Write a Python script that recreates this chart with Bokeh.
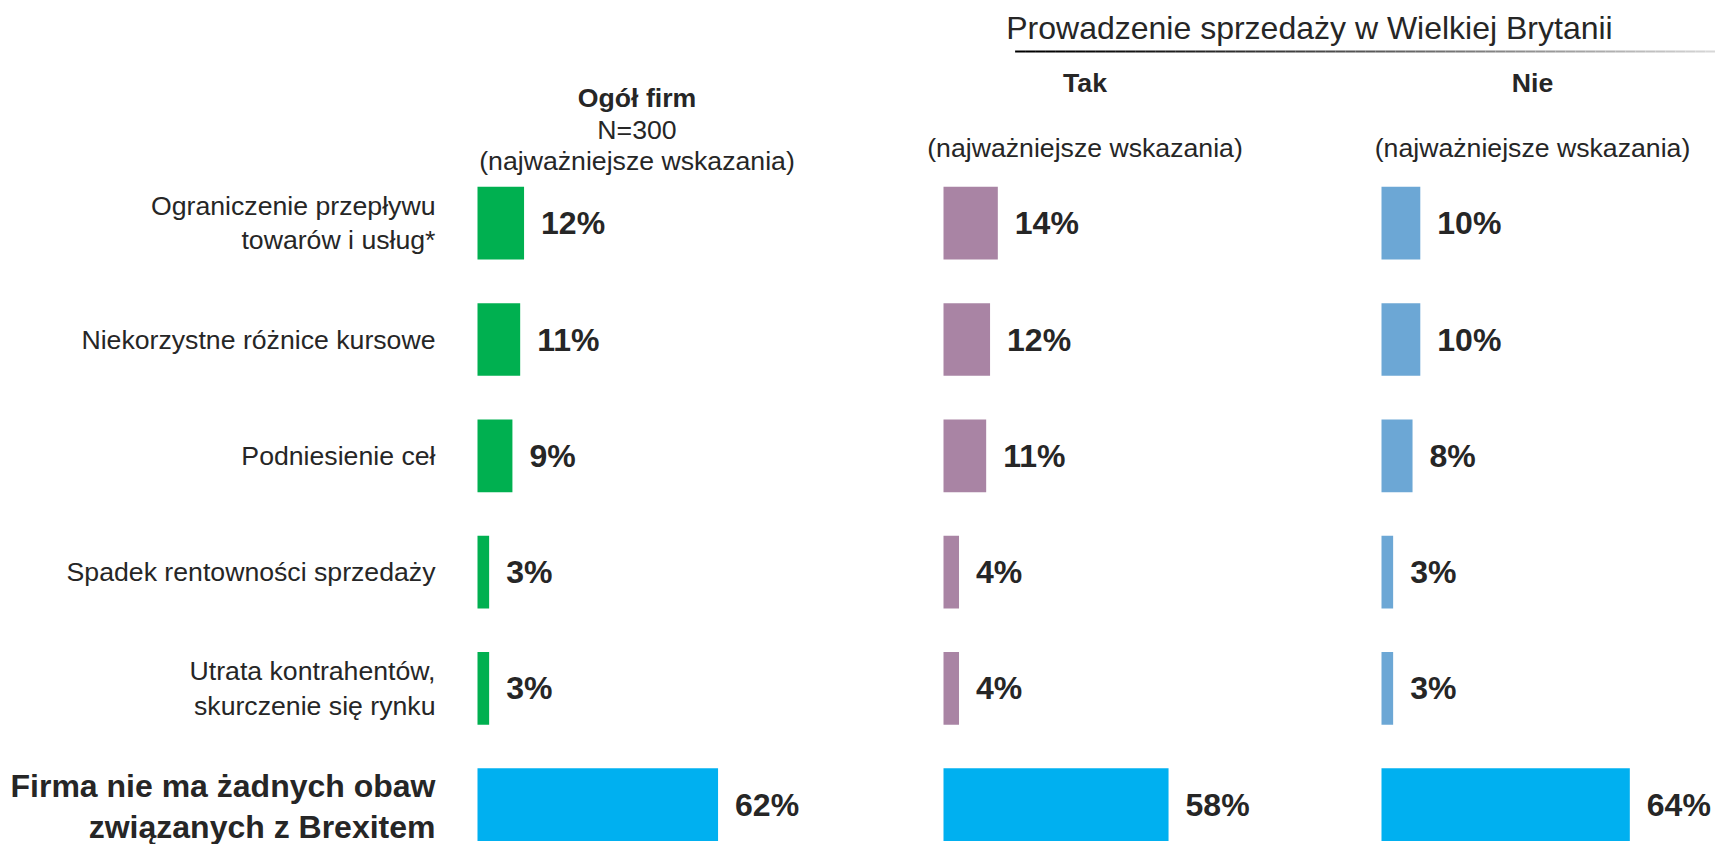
from bokeh.plotting import figure
from bokeh.models import Range1d, ColumnDataSource
from bokeh.core.properties import value
from bokeh.embed import file_html
from bokeh.resources import INLINE

# ---------------- data ----------------
categories = [
    "Ograniczenie przepływu\ntowarów i usług*",
    "Niekorzystne różnice kursowe",
    "Podniesienie ceł",
    "Spadek rentowności sprzedaży",
    "Utrata kontrahentów,\nskurczenie się rynku",
    "Firma nie ma żadnych obaw\nzwiązanych z Brexitem",
]
ogol_firm = [12, 11, 9, 3, 3, 62]
tak = [14, 12, 11, 4, 4, 58]
nie = [10, 10, 8, 3, 3, 64]

title_text = "Prowadzenie sprzedaży w Wielkiej Brytanii"
panel_titles = ["Ogół firm", "Tak", "Nie"]
panel_subtitle = "(najważniejsze wskazania)"
sample_text = "N=300"

# ---------------- layout / style ----------------
W, H = 1715, 844
PAGE0 = 0.0
PX_PER_PCT = 3.88
ROW_PX = 116.3
ORIGIN_PX = 477.0
ROW0_PX = 222.7


def X(px):
    return (px - ORIGIN_PX) / PX_PER_PCT


def Y(py):
    return (py - ROW0_PX) / ROW_PX


FONT = value("Liberation Sans")
TXT = "#262626"
colors = ["#00B050", "#A984A4", "#6CA7D5"]
NONE_COLOR = "#00B0F0"

p = figure(
    width=W, height=H,
    x_range=Range1d(X(PAGE0), X(PAGE0 + W)),
    y_range=Range1d(Y(PAGE0 + H), Y(PAGE0)),
    x_axis_location=None, y_axis_location=None,
    toolbar_location=None, output_backend="svg",
    min_border=0, outline_line_color=None,
    background_fill_color="white", border_fill_color="white",
)
p.grid.visible = False

rows = list(range(len(categories)))
offsets = [0.0, X(943.0), X(1381.0)]
series = [ogol_firm, tak, nie]
gap = 17.0 / PX_PER_PCT

for off, vals, col in zip(offsets, series, colors):
    fills = [col] * (len(vals) - 1) + [NONE_COLOR]
    src = ColumnDataSource(dict(
        y=rows,
        left=[off] * len(vals),
        right=[off + v for v in vals],
        color=fills,
        lx=[off + v + gap for v in vals],
        label=[f"{v}%" for v in vals],
    ))
    p.hbar(y="y", left="left", right="right", height=72.7 / ROW_PX,
           fill_color="color", line_color=None, source=src)
    p.text(x="lx", y="y", text="label", source=src, text_font=FONT,
           text_font_style="bold", text_font_size="32px",
           text_baseline="middle", text_align="left", text_color=TXT)

# category labels
p.text(x=[X(435)] * 5, y=rows[:5], text=categories[:5], text_font=FONT,
       text_font_size="26.67px", text_align="right", text_baseline="middle",
       text_line_height=1.15, text_color=TXT)
p.text(x=[X(435)], y=[Y(806)], text=[categories[5]], text_font=FONT,
       text_font_size="32px", text_font_style="bold", text_align="right",
       text_baseline="middle", text_line_height=1.15, text_color=TXT)

# headers
hx = [X(636.5), X(1084.5), X(1532)]
hy = [Y(97), Y(82), Y(82)]
p.text(x=hx, y=hy, text=panel_titles, text_font=FONT, text_font_style="bold",
       text_font_size="26.67px", text_align="center", text_baseline="middle",
       text_color=TXT)
p.text(x=[hx[0]], y=[Y(129)], text=[sample_text], text_font=FONT,
       text_font_size="26.67px", text_align="center", text_baseline="middle",
       text_color=TXT)
p.text(x=hx, y=[Y(160), Y(147), Y(147)], text=[panel_subtitle] * 3,
       text_font=FONT, text_font_size="26.67px", text_align="center",
       text_baseline="middle", text_color=TXT)

# title and gradient rule
p.text(x=[X(1309)], y=[Y(27)], text=[title_text], text_font=FONT,
       text_font_size="32px", text_align="center", text_baseline="middle",
       text_color=TXT)
n = 70
x0p, x1p = 1014.6, 1715.0
segx0, segx1, segc = [], [], []
for i in range(n):
    a = x0p + (x1p - x0p) * i / n
    b = x0p + (x1p - x0p) * (i + 1) / n
    g = int(0 + 215 * (i / (n - 1)) ** 1.3)
    segx0.append(X(a))
    segx1.append(X(b))
    segc.append("#%02x%02x%02x" % (g, g, g))
p.segment(x0=segx0, y0=[Y(51)] * n, x1=segx1, y1=[Y(51)] * n,
          line_color=segc, line_width=2)

open("out.html", "w").write(file_html(p, INLINE))
